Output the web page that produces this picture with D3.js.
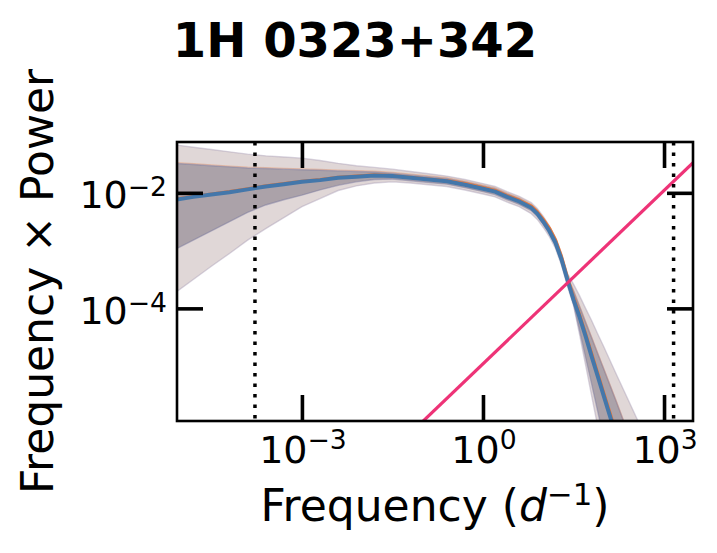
<!DOCTYPE html>
<html>
<head>
<meta charset="utf-8">
<script src="https://cdn.jsdelivr.net/npm/d3@7"></script>
<style>
  html, body { margin: 0; padding: 0; background: #fff; }
  svg { display: block; font-family: "DejaVu Sans", sans-serif; }
</style>
</head>
<body>
<svg id="chart" width="717" height="553"></svg>
<script>
// ---- data (log10 of frequency in 1/d, log10 of frequency x power) ----
const logFreq = [-5.1, -4.8, -4.5, -4.2, -3.9, -3.6, -3.3, -3.0, -2.7, -2.4, -2.1, -1.8, -1.5, -1.2, -0.9, -0.6, -0.3, 0.0, 0.2, 0.4, 0.6, 0.8, 0.9, 1.0, 1.1, 1.2, 1.3, 1.4, 1.5, 1.6, 1.7, 1.8, 1.9, 2.0, 2.2, 2.4, 2.6, 2.8];
const medianBlue = [-2.12, -2.07, -2.03, -1.99, -1.94, -1.89, -1.85, -1.81, -1.78, -1.74, -1.72, -1.70, -1.71, -1.74, -1.77, -1.80, -1.86, -1.93, -1.98, -2.07, -2.15, -2.26, -2.36, -2.50, -2.66, -2.86, -3.15, -3.51, -3.85, -4.15, -4.48, -4.83, -5.17, -5.51, -6.19, -6.87, -7.55, -8.23];
const medianOrange = [-2.11, -2.06, -2.02, -1.98, -1.93, -1.88, -1.84, -1.80, -1.77, -1.73, -1.71, -1.69, -1.70, -1.73, -1.76, -1.79, -1.84, -1.91, -1.96, -2.05, -2.13, -2.23, -2.33, -2.46, -2.61, -2.81, -3.10, -3.47, -3.81, -4.11, -4.44, -4.78, -5.12, -5.46, -6.13, -6.81, -7.49, -8.17];
const outerHi = [-1.17, -1.21, -1.25, -1.29, -1.33, -1.36, -1.38, -1.40, -1.44, -1.49, -1.53, -1.56, -1.59, -1.63, -1.67, -1.71, -1.77, -1.84, -1.89, -1.98, -2.06, -2.17, -2.27, -2.41, -2.57, -2.77, -3.05, -3.40, -3.58, -3.78, -4.00, -4.21, -4.44, -4.66, -5.12, -5.57, -6.02, -6.47];
const outerLo = [-3.73, -3.50, -3.27, -3.05, -2.82, -2.62, -2.43, -2.24, -2.10, -1.96, -1.88, -1.83, -1.81, -1.83, -1.86, -1.89, -1.95, -2.02, -2.07, -2.16, -2.24, -2.36, -2.46, -2.60, -2.76, -2.96, -3.25, -3.62, -3.95, -4.45, -4.98, -5.51, -6.04, -6.57, -7.63, -8.70, -9.70, -10.80];
const innerHi = [-1.49, -1.51, -1.53, -1.55, -1.57, -1.58, -1.59, -1.60, -1.61, -1.62, -1.63, -1.64, -1.66, -1.69, -1.72, -1.75, -1.81, -1.88, -1.93, -2.02, -2.10, -2.21, -2.31, -2.45, -2.61, -2.81, -3.10, -3.46, -3.70, -3.97, -4.24, -4.51, -4.78, -5.05, -5.59, -6.15, -6.70, -7.25];
const innerLo = [-2.98, -2.82, -2.66, -2.50, -2.34, -2.21, -2.12, -2.04, -1.95, -1.87, -1.81, -1.77, -1.76, -1.79, -1.82, -1.85, -1.91, -1.98, -2.03, -2.12, -2.20, -2.31, -2.41, -2.55, -2.71, -2.91, -3.20, -3.56, -3.92, -4.38, -4.85, -5.31, -5.78, -6.25, -7.20, -8.10, -9.00, -9.90];
// white-noise level line (frequency x power proportional to frequency)
const noiseLogFreq = [-1.5, 3.7];
const noiseLogPower = [-6.46, -1.26];
// vertical limits: 1/baseline and Nyquist frequency
const limitFreqs = [1 / 6000, 1440];
const xTickValues = [1e-3, 1, 1e3];
const xTickExps = ["−3", "0", "3"];
const yTickValues = [1e-2, 1e-4];
const yTickExps = ["−2", "−4"];
const titleText = "1H 0323+342";

// ---- layout ----
const svg = d3.select("#chart");
const L = 177, R = 693, T = 142, B = 421;
const x = d3.scaleLog().domain([Math.pow(10, -5.07), Math.pow(10, 3.48)]).range([L, R]);
const y = d3.scaleLog().domain([Math.pow(10, -5.95), Math.pow(10, -1.12)]).range([B, T]);
const P = v => Math.pow(10, v);

svg.append("defs").append("clipPath").attr("id", "clip")
  .append("rect").attr("x", L).attr("y", T).attr("width", R - L).attr("height", B - T);

const g = svg.append("g").attr("clip-path", "url(#clip)");
const idx = d3.range(logFreq.length);

const area = (lo, hi) => d3.area()
  .x(i => x(P(logFreq[i]))).y0(i => y(P(lo[i]))).y1(i => y(P(hi[i])));
const line = arr => d3.line()
  .x(i => x(P(logFreq[i]))).y(i => y(P(arr[i])));

// outer band
g.append("path").attr("d", area(outerLo, outerHi)(idx))
  .attr("fill", "#e0d7d7");
[outerLo, outerHi].forEach(a => g.append("path").attr("d", line(a)(idx))
  .attr("fill", "none").attr("stroke", "rgba(170,160,185,0.45)").attr("stroke-width", 1.4));
// inner band
g.append("path").attr("d", area(innerLo, innerHi)(idx))
  .attr("fill", "#aba2a9");
g.append("path").attr("d", line(innerHi)(idx))
  .attr("fill", "none").attr("stroke", "rgba(238,119,51,0.3)").attr("stroke-width", 1.3)
  .attr("transform", "translate(0,-0.8)");
[innerLo, innerHi].forEach(a => g.append("path").attr("d", line(a)(idx))
  .attr("fill", "none").attr("stroke", "rgba(120,120,160,0.45)").attr("stroke-width", 1.4));

// median lines
g.append("path").attr("d", line(medianOrange)(idx))
  .attr("fill", "none").attr("stroke", "#ee7733").attr("stroke-width", 3.2).attr("stroke-linejoin", "round");
g.append("path").attr("d", line(medianBlue)(idx))
  .attr("fill", "none").attr("stroke", "#4477aa").attr("stroke-width", 4).attr("stroke-linejoin", "round");

// noise line
g.append("path")
  .attr("d", d3.line()(noiseLogFreq.map((f, i) => [x(P(f)), y(P(noiseLogPower[i]))])))
  .attr("fill", "none").attr("stroke", "#ee3377").attr("stroke-width", 3.2);

// vertical dotted limits
g.selectAll("line.lim").data(limitFreqs).enter().append("line")
  .attr("x1", d => x(d)).attr("x2", d => x(d)).attr("y1", T).attr("y2", B)
  .attr("stroke", "#000").attr("stroke-width", 3.5).attr("stroke-dasharray", "3.5,7");

// ---- axes (ticks inward on all sides) ----
const tickLen = 26;
const axB = svg.append("g").attr("transform", `translate(0,${B})`)
  .call(d3.axisBottom(x).tickValues(xTickValues).tickSize(-tickLen).tickFormat(""));
const axT = svg.append("g").attr("transform", `translate(0,${T})`)
  .call(d3.axisTop(x).tickValues(xTickValues).tickSize(-tickLen).tickFormat(""));
const axL = svg.append("g").attr("transform", `translate(${L},0)`)
  .call(d3.axisLeft(y).tickValues(yTickValues).tickSize(-tickLen).tickFormat(""));
const axR = svg.append("g").attr("transform", `translate(${R},0)`)
  .call(d3.axisRight(y).tickValues(yTickValues).tickSize(-tickLen).tickFormat(""));
[axB, axT, axL, axR].forEach(a => {
  a.select(".domain").remove();
  a.selectAll(".tick line").attr("stroke", "#000").attr("stroke-width", 3.6);
});

// frame
svg.append("rect").attr("x", L).attr("y", T).attr("width", R - L).attr("height", B - T)
  .attr("fill", "none").attr("stroke", "#000").attr("stroke-width", 2.6);

// tick labels
const tickFont = 38;
xTickValues.forEach((v, i) => {
  const t = svg.append("text").attr("x", x(v) + 1).attr("y", 463)
    .attr("text-anchor", "middle").attr("font-size", tickFont).attr("fill", "#000");
  t.append("tspan").text("10");
  t.append("tspan").text(xTickExps[i]).attr("font-size", tickFont * 0.7).attr("dy", -14);
});
yTickValues.forEach((v, i) => {
  const t = svg.append("text").attr("x", 167).attr("y", y(v) + 15.5)
    .attr("text-anchor", "end").attr("font-size", tickFont).attr("fill", "#000");
  t.append("tspan").text("10");
  t.append("tspan").text(yTickExps[i]).attr("font-size", tickFont * 0.7).attr("dy", -12);
});

// axis labels
const labFont = 44;
const xl = svg.append("text").attr("x", (L + R) / 2).attr("y", 521)
  .attr("text-anchor", "middle").attr("font-size", labFont).attr("fill", "#000");
xl.append("tspan").text("Frequency (");
xl.append("tspan").text("d").attr("font-style", "italic");
xl.append("tspan").text("−1").attr("font-size", labFont * 0.7).attr("dy", -16);
xl.append("tspan").text(")").attr("dy", 16);

svg.append("text").attr("transform", `translate(53,${(T + B) / 2}) rotate(-90)`)
  .attr("text-anchor", "middle").attr("font-size", labFont).attr("fill", "#000")
  .text("Frequency × Power");

// title
svg.append("text").attr("x", 355).attr("y", 57).attr("text-anchor", "middle")
  .attr("font-size", 48).attr("font-weight", "bold").attr("fill", "#000")
  .text(titleText);
</script>
</body>
</html>
